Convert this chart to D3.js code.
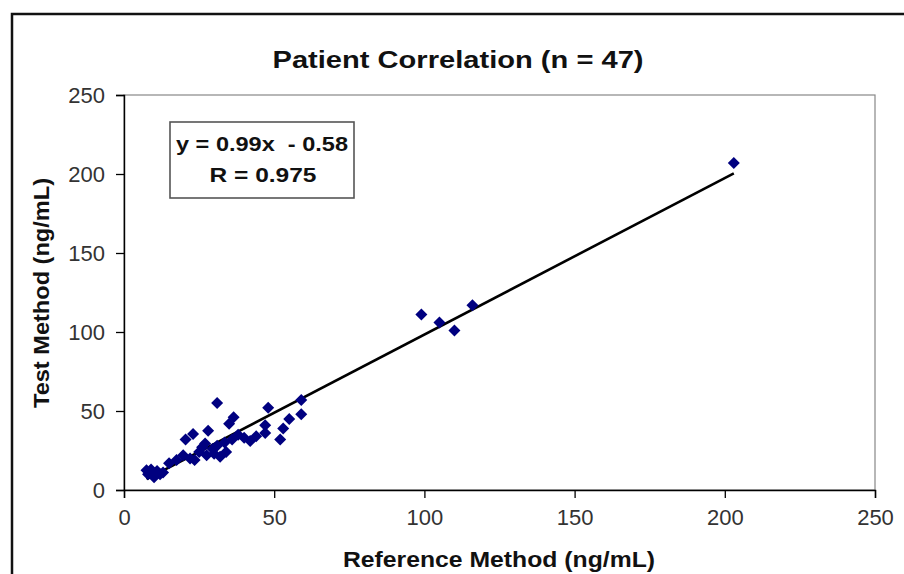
<!DOCTYPE html>
<html><head><meta charset="utf-8">
<script src="https://cdn.jsdelivr.net/npm/d3@7"></script>
<style>body{margin:0;background:#fff}svg{display:block}</style>
</head><body>
<script>
const refValues = [203,99,105,110,116,59,59,55,53,52,48,47,47,42,40,38,36.5,35,31,33.5,32,29.5,28,27,27.5,23,20.5,26,23.5,19.7,17.5,8,9,10,11,12,7.5,13,30,34,25,31,36,15,22,44,9.5];
const testValues = [207,111,106,101,117,57,48,45,39,32,52,41,36,31,33,35,46,42,55,30,21,26,37.5,29.5,22,35.5,32,27,19,22,19,10,13,8,12,10,12.5,11,23,24,24,28,32,17,20,34,11];
const xTicks = [0,50,100,150,200,250];
const yTicks = [0,50,100,150,200,250];
const slope = 0.99, intercept = -0.58;
const title = "Patient Correlation (n = 47)";
const eqLines = ["y = 0.99x  - 0.58", "R = 0.975"];
const xLabel = "Reference Method (ng/mL)";
const yLabel = "Test Method (ng/mL)";

const W = 904, H = 574;
const FONT = "'Liberation Sans', Arial, sans-serif";
const svg = d3.select("body").append("svg").attr("width", W).attr("height", H)
  .style("font-family", FONT);

// outer frame
svg.append("rect").attr("x", 12).attr("y", 14).attr("width", 920).attr("height", 600)
  .attr("fill", "none").attr("stroke", "#111").attr("stroke-width", 2.5);

const x = d3.scaleLinear().domain([0, 250]).range([124, 875]);
const y = d3.scaleLinear().domain([0, 250]).range([490, 95]);

// plot area border
svg.append("rect").attr("x", x(0)).attr("y", y(250)).attr("width", x(250) - x(0)).attr("height", y(0) - y(250))
  .attr("fill", "none").attr("stroke", "#888").attr("stroke-width", 1.2);

const xAxis = svg.append("g").attr("transform", `translate(0,${y(0)})`)
  .call(d3.axisBottom(x).tickValues(xTicks).tickSize(8).tickPadding(11).tickFormat(d3.format("d")));
const yAxis = svg.append("g").attr("transform", `translate(${x(0)},0)`)
  .call(d3.axisLeft(y).tickValues(yTicks).tickSize(8).tickPadding(11).tickFormat(d3.format("d")));
[xAxis, yAxis].forEach(g => {
  g.select(".domain").attr("stroke", "#000").attr("stroke-width", 1.4);
  g.selectAll(".tick line").attr("stroke", "#000").attr("stroke-width", 1.3);
  g.selectAll("text").attr("font-size", 22).attr("fill", "#333")
    .style("font-family", FONT);
});

// regression line
const xmin = d3.min(refValues), xmax = d3.max(refValues);
svg.append("line")
  .attr("x1", x(xmin)).attr("y1", y(slope * xmin + intercept))
  .attr("x2", x(xmax)).attr("y2", y(slope * xmax + intercept))
  .attr("stroke", "#000").attr("stroke-width", 2.6);

// points
const pts = refValues.map((r, i) => [r, testValues[i]]);
svg.append("g").selectAll("path").data(pts).join("path")
  .attr("transform", d => `translate(${x(d[0])},${y(d[1])})`)
  .attr("d", "M0,-6L6,0L0,6L-6,0Z")
  .attr("fill", "#000080");

// title
svg.append("text").attr("x", 458).attr("y", 68).attr("text-anchor", "middle")
  .attr("font-size", 24).attr("font-weight", "bold").attr("fill", "#111")
  .attr("textLength", 371).attr("lengthAdjust", "spacingAndGlyphs").text(title);

// equation box
svg.append("rect").attr("x", 170).attr("y", 122).attr("width", 184).attr("height", 76)
  .attr("fill", "#fff").attr("stroke", "#555").attr("stroke-width", 1.6);
svg.append("text").attr("x", 262).attr("y", 151).attr("text-anchor", "middle")
  .attr("font-size", 21).attr("font-weight", "bold").attr("fill", "#111")
  .attr("textLength", 172).attr("lengthAdjust", "spacingAndGlyphs")
  .attr("xml:space", "preserve").style("white-space", "pre").text(eqLines[0]);
svg.append("text").attr("x", 263).attr("y", 182).attr("text-anchor", "middle")
  .attr("font-size", 21).attr("font-weight", "bold").attr("fill", "#111")
  .attr("textLength", 107).attr("lengthAdjust", "spacingAndGlyphs").text(eqLines[1]);

// axis titles
svg.append("text").attr("x", 499).attr("y", 567).attr("text-anchor", "middle")
  .attr("font-size", 22).attr("font-weight", "bold").attr("fill", "#111")
  .attr("textLength", 312).attr("lengthAdjust", "spacingAndGlyphs").text(xLabel);
svg.append("text").attr("transform", "translate(49,293) rotate(-90)").attr("text-anchor", "middle")
  .attr("font-size", 22).attr("font-weight", "bold").attr("fill", "#111")
  .attr("textLength", 230).attr("lengthAdjust", "spacingAndGlyphs").text(yLabel);
</script>
</body></html>
